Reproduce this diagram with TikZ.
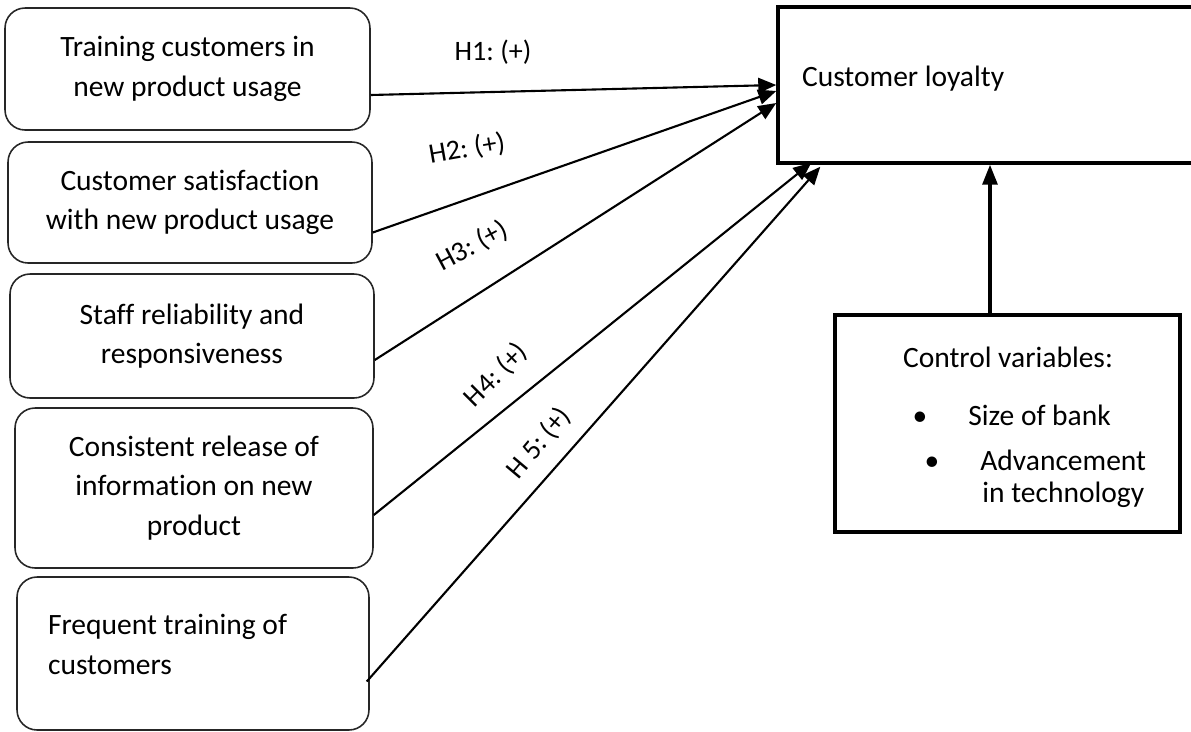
\documentclass[tikz,border=0pt]{standalone}
\usepackage{fontspec}
\setmainfont{Carlito}[Ligatures={NoCommon}]
\frenchspacing
\usetikzlibrary{arrows.meta,calc}

\tikzset{
  factor/.style={draw=black!85,line width=0.9pt,rounded corners=0.4cm,align=center,inner sep=0pt},
  outcome/.style={draw,line width=2pt,inner sep=0pt},
  item/.style={inner sep=0pt,anchor=base west},
  hyp/.style={font=\fontsize{16}{19}\selectfont},
  link/.style={line width=1.2pt,-{Triangle[length=0.36cm,width=0.3cm]}}
}

\begin{document}
\begin{tikzpicture}[x=0.02cm,y=-0.02cm,font=\fontsize{16.8}{22.5}\selectfont]
\useasboundingbox (0,0) rectangle (1191,731);
% predictors
\node[factor,minimum width=7.3cm,minimum height=2.44cm] (train) at (187.5,69) {Training customers in\\new product usage};
\node[factor,minimum width=7.28cm,minimum height=2.42cm] (satis) at (190,202.5) {Customer satisfaction\\with new product usage};
\node[factor,minimum width=7.28cm,minimum height=2.48cm] (staff) at (192,336) {Staff reliability and\\responsiveness};
\node[factor,minimum width=7.16cm,minimum height=3.2cm] (info) at (194,488) {Consistent release of\\information on new\\product};
\node[factor,minimum width=7.04cm,minimum height=3.06cm,text width=5.8cm,align=flush left,text depth=1.16cm] (freq) at (193,653.5) {Frequent training of\\customers};
% outcome and controls
\node[outcome,minimum width=8.64cm,minimum height=3.12cm,text width=7.68cm,align=flush left,text depth=0.35cm] (loyal) at (994,85) {Customer loyalty};
\node[outcome,minimum width=6.9cm,minimum height=4.34cm] (ctrl) at (1007.5,423.5) {};
\node[anchor=base,inner sep=0pt] (ctitle) at (1008,367) {Control variables:};
\node[anchor=base,inner sep=0pt] (dot1) at (920,425) {\textbullet};
\node[item] (size) at (968,425) {Size of bank};
\node[anchor=base,inner sep=0pt] (dot2) at (932,470) {\textbullet};
\node[item] (adv) at (980,470) {Advancement};
\node[item] (tech) at (982,502) {in technology};
% hypotheses
\draw[link] ($(train.east)+(0,26)$) -- (loyal.west);
\draw[link] ($(satis.east)+(0,30)$) -- ($(loyal.west)+(0,6)$);
\draw[link] ($(staff.east)+(0,24)$) -- ($(loyal.west)+(0,18)$);
\draw[link] ($(info.east)+(0,27)$) -- ($(loyal.south west)+(35,-2)$);
\draw[link] ($(freq.east)+(-3,28)$) -- ($(loyal.south west)+(44,2)$);
\node[hyp] (h1) at (493,52) {H1: (+)};
\node[hyp,rotate=10] (h2) at (467,149) {H2: (+)};
\node[hyp,rotate=28] (h3) at (472,246) {H3: (+)};
\node[hyp,rotate=45] (h4) at (496,375) {H4: (+)};
\node[hyp,rotate=50] (h5) at (539,443) {H 5: (+)};
\coordinate (ctop) at ($(ctrl.north)+(-17.5,0)$);
\draw[line width=1.8pt,-{Triangle[length=0.4cm,width=0.3cm]}] (ctop) -- (ctop |- loyal.south);
\end{tikzpicture}
\end{document}
